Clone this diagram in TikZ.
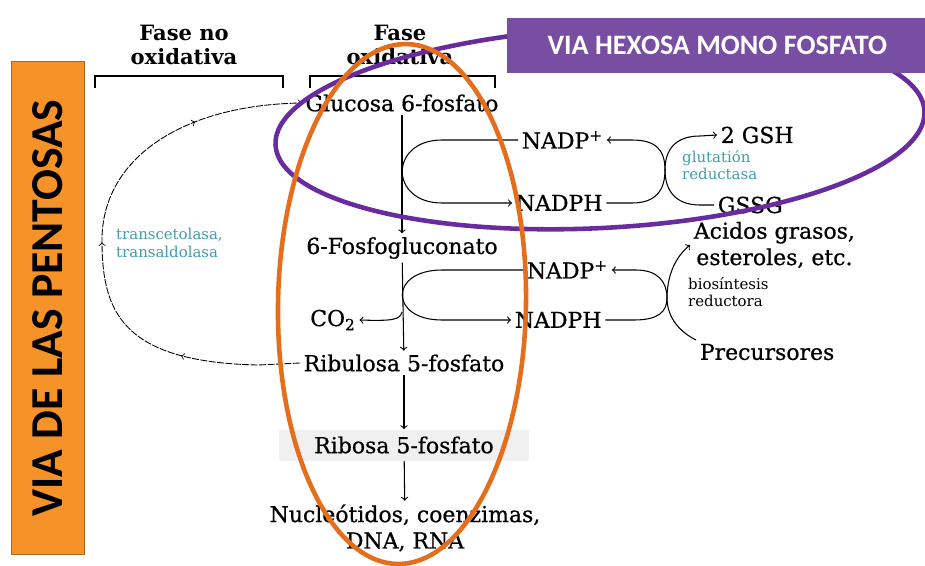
\documentclass[tikz,border=0pt]{standalone}
\usepackage{fontspec}
\setmainfont{DejaVu Serif}
\newfontfamily\labelfont[FakeBold=0.7]{DejaVu Serif}
\newfontfamily\slidefont{Carlito}
\usetikzlibrary{positioning,decorations.markings}

\definecolor{barorange}{RGB}{246,147,40}
\definecolor{bannerpurple}{RGB}{120,78,162}
\definecolor{ringpurple}{RGB}{104,44,158}
\definecolor{ringorange}{RGB}{229,110,28}
\definecolor{enzteal}{RGB}{64,158,170}

\begin{document}
\begin{tikzpicture}[x=0.02cm, y=-0.02cm,
    metab/.style={font=\labelfont\fontsize{12.5}{15}\selectfont, inner sep=2pt},
    phase/.style={font=\fontsize{12}{13.6}\selectfont\bfseries, align=center},
    enzyme/.style={font=\fontsize{8.5}{10}\selectfont, text=enzteal, align=left, anchor=west},
    note/.style={font=\fontsize{8.5}{10}\selectfont, align=left, anchor=west},
    flow/.style={->, line width=0.6pt},
    bracket/.style={line width=0.8pt},
    recycle/.style={->, line width=0.5pt, dash pattern=on 4pt off 0.8pt,
        postaction={decorate}, decoration={markings,
            mark=at position 0.22 with {\arrow{>}},
            mark=at position 0.5 with {\arrow{>}},
            mark=at position 0.8 with {\arrow{>}}}},
    ring/.style={line width=2.6pt},
]
    \useasboundingbox (0,0) rectangle (925,565);
    \fill[white] (0,0) rectangle (925,565);

    % Side bar and headers
    \node[fill=barorange, draw=barorange!70!black, line width=0.6pt, rotate=90,
          minimum width=9.86cm, minimum height=1.46cm,
          font=\slidefont\bfseries\fontsize{26}{28}\selectfont] (bar) at (48,308) {VIA DE LAS PENTOSAS};
    \node[phase] (nonox) at (184,45) {Fase no\\oxidativa};
    \node[phase] (ox) at (400,45) {Fase\\oxidativa};
    \draw[bracket] (95,88) -- (95,76) -- (283,76) -- (283,88);
    \draw[bracket] (310,88) -- (310,76) -- (495,76) -- (495,88);

    % Main oxidative sequence
    \node[metab] (glu) at (402,103) {Glucosa 6-fosfato};
    \node[metab] (pgl) at (402,248) {6-Fosfogluconato};
    \node[metab] (rib) at (404,363) {Ribulosa 5-fosfato};
    \node[metab, fill=black!6, minimum width=5cm, minimum height=0.62cm] (ribosa) at (404,445) {Ribosa 5-fosfato};
    \node[metab, align=center] (nuc) at (405,528) {Nucleótidos, coenzimas,\\DNA, RNA};
    \node[metab] (co2) at (333,320) {CO\textsubscript{2}};

    \draw[flow] (glu) -- (pgl);
    \draw[flow] (pgl) -- (rib);
    \draw[flow] (rib) -- (ribosa);
    \draw[flow] (ribosa) -- (nuc);

    % Cofactors
    \node[metab, anchor=west] (nadp1) at (518,140) {NADP\textsuperscript{+}};
    \node[metab, anchor=west] (nadph1) at (512,203) {NADPH};
    \node[metab, anchor=west] (nadp2) at (523,270) {NADP\textsuperscript{+}};
    \node[metab, anchor=west] (nadph2) at (511,320) {NADPH};

    % Products
    \node[metab, anchor=west] (gsh) at (717,135) {2 GSH};
    \node[metab, anchor=west] (gssg) at (714,205) {GSSG};
    \node[metab, align=center, anchor=west] (acid) at (690,245) {Acidos grasos,\\esteroles, etc.};
    \node[metab, anchor=west] (prec) at (696,352) {Precursores};

    % Enzymes
    \node[enzyme] (gr) at (676,165) {glutatión\\reductasa};
    \node[enzyme] (tt) at (110,243) {transcetolasa,\\transaldolasa};
    \node[note] (bio) at (682,292) {biosíntesis\\reductora};

    % NADPH-generating steps
    \draw[flow] (nadp1.west) -- (442,140) .. controls (389,140) and (389,203) .. (442,203) -- (nadph1.west);
    \draw[flow] (nadp2.west) -- (442,270) .. controls (389,270) and (389,320) .. (442,320) -- (nadph2.west);
    \coordinate (split) at (402,312);
    \draw[flow] (split) .. controls (400,320) and (392,321) .. (co2.east);

    % Reducing power used
    \draw[flow] (nadph1.east) -- (632,203) .. controls (656,203) and (665,190) .. (665,170)
        .. controls (665,150) and (675,136) .. (700,136) -- (gsh.west);
    \draw[flow] (gssg.west) -- (700,205) .. controls (675,205) and (665,190) .. (665,170)
        .. controls (665,150) and (656,140) .. (632,140) -- (nadp1.east);
    \draw[flow] (nadph2.east) -- (634,320) .. controls (658,320) and (667,312) .. (667,298)
        .. controls (667,278) and (674,258) .. (acid.west);
    \draw[flow] (prec.north west) .. controls (676,330) and (667,314) .. (667,298)
        .. controls (667,282) and (658,270) .. (636,270) -- (nadp2.east);

    % Non-oxidative return
    \draw[recycle] (rib.west) -- (258,365) .. controls (120,362) and (102,310) .. (102,240)
        .. controls (102,160) and (180,105) .. (glu.west);

    % Highlight rings
    \draw[ring, ringpurple, rotate around={3:(600,128)}] (600,128) ellipse [x radius=6.5cm, y radius=2cm];
    \node[fill=bannerpurple, text=white, anchor=north west, minimum width=8.4cm, minimum height=1.1cm,
          font=\slidefont\bfseries\fontsize{16}{19}\selectfont] (banner) at (507,18) {VIA HEXOSA MONO FOSFATO};
    \draw[ring, ringorange, rotate around={-1:(402,304)}] (402,304) ellipse [x radius=2.48cm, y radius=5.2cm];
\end{tikzpicture}
\end{document}
